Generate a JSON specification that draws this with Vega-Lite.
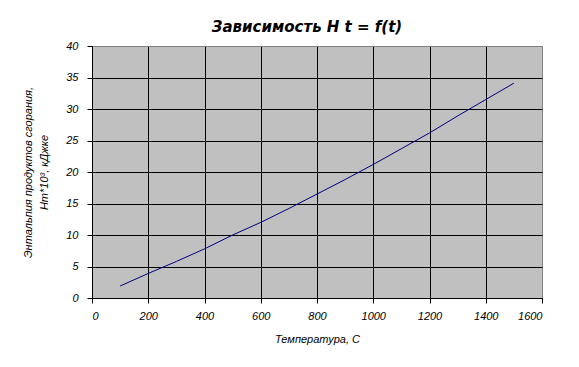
{
  "$schema": "https://vega.github.io/schema/vega-lite/v6.json",
  "autosize": "none",
  "width": 450,
  "height": 252,
  "padding": {"left": 92, "top": 46, "right": 37, "bottom": 69},
  "background": "white",
  "title": {
    "text": "Зависимость H t = f(t)",
    "font": "DejaVu Sans",
    "fontSize": 15,
    "fontWeight": "bold",
    "fontStyle": "italic",
    "color": "black",
    "frame": "group",
    "anchor": "middle",
    "baseline": "alphabetic",
    "offset": -7,
    "dx": -10
  },
  "data": {
    "values": [
      {"t": 100, "H": 1.9},
      {"t": 200, "H": 3.9},
      {"t": 300, "H": 5.8},
      {"t": 400, "H": 7.8},
      {"t": 500, "H": 10.0},
      {"t": 600, "H": 12.0},
      {"t": 700, "H": 14.2},
      {"t": 800, "H": 16.5},
      {"t": 900, "H": 18.8},
      {"t": 1000, "H": 21.2},
      {"t": 1100, "H": 23.7},
      {"t": 1200, "H": 26.2},
      {"t": 1300, "H": 28.9},
      {"t": 1400, "H": 31.5},
      {"t": 1500, "H": 34.1}
    ]
  },
  "mark": {"type": "line", "color": "#000080", "strokeWidth": 1},
  "encoding": {
    "x": {
      "field": "t",
      "type": "quantitative",
      "scale": {"domain": [0, 1600], "nice": false, "zero": false},
      "axis": {
        "title": "Температура, С",
        "format": "d",
        "values": [0, 200, 400, 600, 800, 1000, 1200, 1400, 1600],
        "titlePadding": 12,
        "labelPadding": 7,
        "gridColor": {"condition": {"test": "datum.value === 1600", "value": "#808080"}, "value": "black"}
      }
    },
    "y": {
      "field": "H",
      "type": "quantitative",
      "scale": {"domain": [0, 40], "nice": false, "zero": false},
      "axis": {
        "title": ["Энтальпия продуктов сгорания,", "Hт*10³, кДжке"],
        "values": [0, 5, 10, 15, 20, 25, 30, 35, 40],
        "titlePadding": 16,
        "labelPadding": 9,
        "titleLineHeight": 16,
        "gridColor": {"condition": {"test": "datum.value === 40", "value": "#808080"}, "value": "black"}
      }
    }
  },
  "config": {
    "view": {"fill": "#C0C0C0", "stroke": "#808080", "strokeWidth": 1},
    "axis": {
      "domainColor": "black",
      "domainWidth": 1,
      "tickColor": "black",
      "tickSize": 5,
      "tickWidth": 1,
      "gridWidth": 1,
      "gridOpacity": 1,
      "labelFont": "Liberation Sans",
      "labelFontSize": 11,
      "labelFontStyle": "italic",
      "labelColor": "black",
      "titleFont": "Liberation Sans",
      "titleFontSize": 11,
      "titleFontStyle": "italic",
      "titleFontWeight": "normal",
      "titleColor": "black"
    }
  }
}
